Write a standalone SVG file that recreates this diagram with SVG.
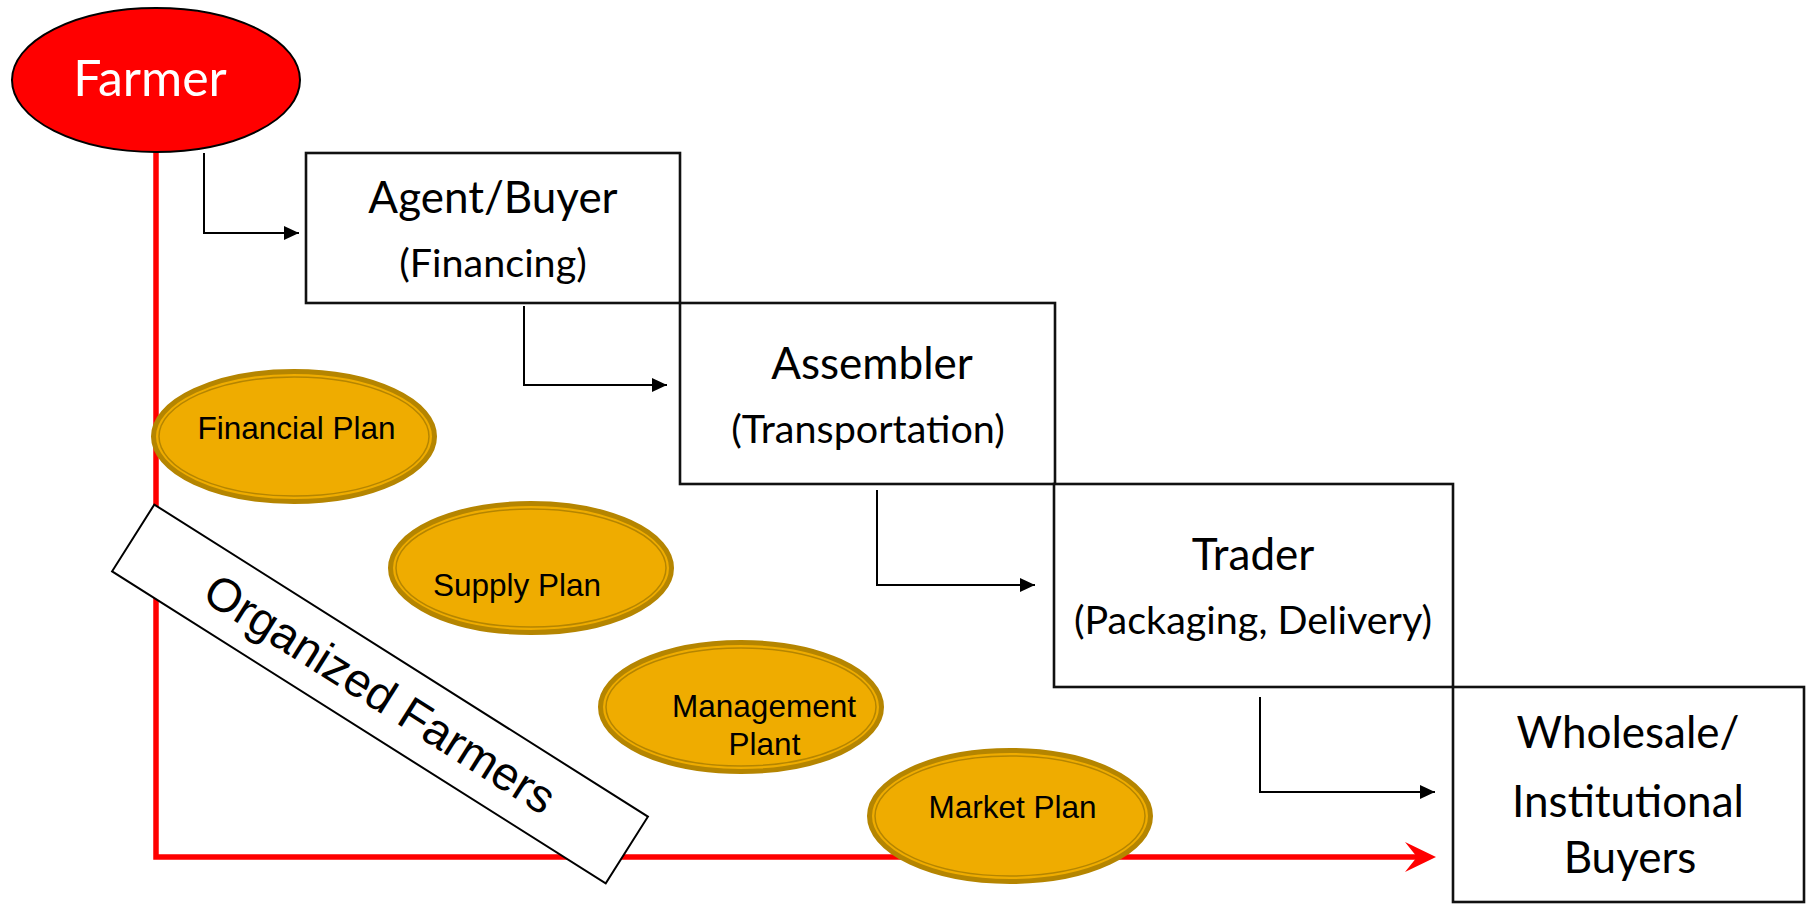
<svg xmlns="http://www.w3.org/2000/svg" width="1810" height="904" viewBox="0 0 1810 904">
<defs>
<style>
.box{fill:#fff;stroke:#111;stroke-width:2.6}
.t{font-family:Lato,"Open Sans",sans-serif;fill:#000;text-anchor:middle}
.big{font-size:44px}
.sub{font-size:39.5px}
.conn{fill:none;stroke:#000;stroke-width:2}
.gold-o{fill:#EFAC00;stroke:#B58500;stroke-width:5}
.gold-i{fill:none;stroke:#B58500;stroke-width:1.5}
.gt{font-family:"Liberation Sans",Arial,sans-serif;font-size:31.5px;fill:#000;text-anchor:middle}
</style>
<marker id="ah" markerWidth="16" markerHeight="14" refX="15" refY="7" orient="auto" markerUnits="userSpaceOnUse">
<path d="M0,0 L15,7 L0,14 Z" fill="#000"/>
</marker>
</defs>
<rect width="1810" height="904" fill="#fff"/>

<g id="red-path">
<polyline points="156,150 156,857 1420,857" fill="none" stroke="#FF0000" stroke-width="5.5"/>
<path d="M1436,857 L1405,842 L1417,857 L1405,872 Z" fill="#FF0000"/>
</g>

<g id="farmer">
<ellipse cx="156" cy="80" rx="144" ry="72" fill="#FF0000" stroke="#000" stroke-width="2"/>
<text class="t" x="150" y="96" style="font-size:50px;fill:#fff">Farmer</text>
</g>

<g id="agent">
<rect class="box" x="306" y="153" width="374" height="150"/>
<text class="t big" x="493" y="213">Agent/Buyer</text>
<text class="t sub" x="493" y="277">(Financing)</text>
</g>

<g id="assembler">
<rect class="box" x="680" y="303" width="375" height="181"/>
<text class="t big" x="872" y="379">Assembler</text>
<text class="t sub" x="868" y="443">(Transportation)</text>
</g>

<g id="trader">
<rect class="box" x="1054" y="484" width="399" height="203"/>
<text class="t big" x="1253" y="570">Trader</text>
<text class="t sub" x="1253" y="634">(Packaging, Delivery)</text>
</g>

<g id="wholesale">
<rect class="box" x="1453" y="687" width="351" height="215"/>
<text class="t big" x="1628" y="748">Wholesale/</text>
<text class="t big" x="1628" y="817">Institutional</text>
<text class="t big" x="1630" y="873">Buyers</text>
</g>

<g id="connectors">
<polyline class="conn" points="204,153 204,233 299,233" marker-end="url(#ah)"/>
<polyline class="conn" points="524,306 524,385 667,385" marker-end="url(#ah)"/>
<polyline class="conn" points="877,490 877,585 1035,585" marker-end="url(#ah)"/>
<polyline class="conn" points="1260,697 1260,792 1435,792" marker-end="url(#ah)"/>
</g>

<g id="financial-plan">
<ellipse class="gold-o" cx="294" cy="436.5" rx="140.5" ry="65"/>
<ellipse class="gold-i" cx="294" cy="436.5" rx="135" ry="59.5"/>
<text class="gt" x="296.5" y="439">Financial Plan</text>
</g>

<g id="supply-plan">
<ellipse class="gold-o" cx="531" cy="568" rx="140.5" ry="64.5"/>
<ellipse class="gold-i" cx="531" cy="568" rx="135" ry="59"/>
<text class="gt" x="517" y="596">Supply Plan</text>
</g>

<g id="management-plant">
<ellipse class="gold-o" cx="741" cy="707" rx="140.5" ry="64.5"/>
<ellipse class="gold-i" cx="741" cy="707" rx="135" ry="59"/>
<text class="gt" x="764" y="717">Management</text>
<text class="gt" x="764.5" y="755">Plant</text>
</g>

<g id="market-plan">
<ellipse class="gold-o" cx="1010" cy="816" rx="140.5" ry="65.5"/>
<ellipse class="gold-i" cx="1010" cy="816" rx="135" ry="60"/>
<text class="gt" x="1012.5" y="818">Market Plan</text>
</g>

<g id="organized-farmers" transform="translate(380,694) rotate(32.3)">
<rect x="-292" y="-39.5" width="584" height="79" fill="#fff" stroke="#000" stroke-width="2"/>
<text x="0" y="16" style="font-family:'Liberation Sans',Arial,sans-serif;font-size:47px;text-anchor:middle;fill:#000">Organized Farmers</text>
</g>
</svg>
